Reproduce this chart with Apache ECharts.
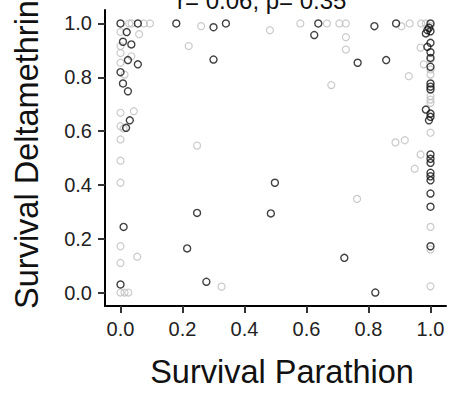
<!DOCTYPE html>
<html>
<head>
<meta charset="utf-8">
<script src="https://cdn.jsdelivr.net/npm/echarts@6/dist/echarts.min.js"></script>
<style>
  html, body { margin: 0; padding: 0; background: #fff; }
  #main { width: 467px; height: 396px; }
</style>
</head>
<body>
<div id="main"></div>
<script>
// survival values, [parathion, deltamethrin]
var darkPoints = [
  [0.00, 1.00], [0.056, 1.00], [0.02, 0.968], [0.008, 0.932], [0.035, 0.922],
  [0.024, 0.864], [0.056, 0.848], [0.00, 0.819], [0.008, 0.777], [0.024, 0.748],
  [0.03, 0.64], [0.018, 0.612], [0.01, 0.244], [0.00, 0.03],
  [0.18, 1.00], [0.30, 0.986], [0.34, 1.00], [0.30, 0.866], [0.215, 0.164],
  [0.247, 0.296], [0.277, 0.04], [0.498, 0.408], [0.485, 0.294], [0.638, 1.00],
  [0.625, 0.957], [0.722, 0.129], [0.765, 0.854], [0.819, 0.99], [0.857, 0.864],
  [0.889, 1.00], [0.822, 0.00],
  [1.00, 1.00], [0.995, 0.984], [0.99, 0.975], [1.00, 0.971], [0.985, 0.963],
  [1.00, 0.928], [0.99, 0.913], [1.00, 0.893], [1.00, 0.872], [1.00, 0.839],
  [1.00, 0.777], [1.00, 0.765], [1.00, 0.755], [0.985, 0.68], [1.00, 0.665],
  [1.00, 0.653], [0.995, 0.64], [1.00, 0.513], [1.00, 0.497], [1.00, 0.482],
  [1.00, 0.445], [1.00, 0.432], [1.00, 0.417], [1.00, 0.368], [1.00, 0.319],
  [1.00, 0.172]
];
var lightPoints = [
  [0.028, 1.00], [0.036, 1.00], [0.075, 1.00], [0.095, 1.00], [0.00, 0.968],
  [0.06, 0.96], [0.00, 0.916], [0.00, 0.89], [0.035, 0.878], [0.00, 0.854],
  [0.013, 0.81], [0.00, 0.668], [0.043, 0.674], [0.00, 0.618], [0.01, 0.61],
  [0.00, 0.569], [0.00, 0.49], [0.00, 0.408], [0.00, 0.172], [0.00, 0.11],
  [0.054, 0.133], [0.00, 0.00], [0.013, 0.00], [0.025, 0.00],
  [0.22, 0.916], [0.26, 0.99], [0.247, 0.546], [0.326, 0.022], [0.482, 0.975],
  [0.58, 1.00], [0.666, 1.00], [0.706, 1.00], [0.727, 1.00], [0.727, 0.949],
  [0.727, 0.903], [0.68, 0.771], [0.763, 0.348], [0.906, 0.99], [0.933, 1.00],
  [0.93, 0.804], [0.887, 0.558], [0.917, 0.566], [0.968, 0.513], [0.949, 0.46],
  [0.968, 0.91], [0.978, 0.848],
  [0.97, 1.00], [0.985, 1.00], [1.00, 0.99], [1.00, 0.866], [1.00, 0.829],
  [1.00, 0.81], [1.00, 0.73], [1.00, 0.717], [1.00, 0.705], [1.00, 0.594],
  [1.00, 0.244], [1.00, 0.16], [1.00, 0.023]
];
var tickValues = [0, 0.2, 0.4, 0.6, 0.8, 1.0];
var titleText = 'r= 0.06, p= 0.35';

var chart = echarts.init(document.getElementById('main'), null, { renderer: 'svg' });

var axisCommon = {
  type: 'value',
  min: -0.05,
  max: 1.05,
  nameLocation: 'middle',
  nameTextStyle: { fontFamily: 'Liberation Sans', fontSize: 32.5, color: '#111' },
  axisLine: { show: true, onZero: false, lineStyle: { color: '#000', width: 2 } },
  axisTick: { show: true, length: 7, lineStyle: { color: '#333', width: 2 }, customValues: tickValues },
  axisLabel: {
    fontFamily: 'Liberation Sans', fontSize: 20, color: '#222', margin: 13,
    customValues: tickValues,
    formatter: function (v) { return v.toFixed(1); }
  },
  splitLine: { show: false }
};

var option = {
  backgroundColor: '#fff',
  animation: false,
  grid: { left: 105, right: 21, top: 10, bottom: 90, outerBoundsMode: 'none' },
  graphic: [{
    type: 'text',
    left: 177,
    top: -12,
    style: { text: titleText, fontFamily: 'Liberation Sans', fontSize: 24, fill: '#111' }
  }],
  xAxis: Object.assign({}, axisCommon, {
    name: 'Survival Parathion',
    nameGap: 49,
    nameTextStyle: { fontFamily: 'Liberation Sans', fontSize: 32.5, color: '#111', padding: [0, 0, 0, 13] }
  }),
  yAxis: Object.assign({}, axisCommon, {
    name: 'Survival Deltamethrin',
    nameGap: 62,
    nameTextStyle: { fontFamily: 'Liberation Sans', fontSize: 32.5, color: '#111', padding: [0, 0, 0, 7] }
  }),
  series: [
    {
      name: 'light',
      type: 'scatter',
      symbol: 'circle',
      symbolSize: 7,
      data: lightPoints,
      itemStyle: { color: 'rgba(0,0,0,0)', borderColor: '#bdbdbd', borderWidth: 1.2 }
    },
    {
      name: 'dark',
      type: 'scatter',
      symbol: 'circle',
      symbolSize: 7,
      data: darkPoints,
      itemStyle: { color: 'rgba(0,0,0,0)', borderColor: '#111', borderWidth: 1.4 }
    }
  ]
};
chart.setOption(option);
</script>
</body>
</html>
